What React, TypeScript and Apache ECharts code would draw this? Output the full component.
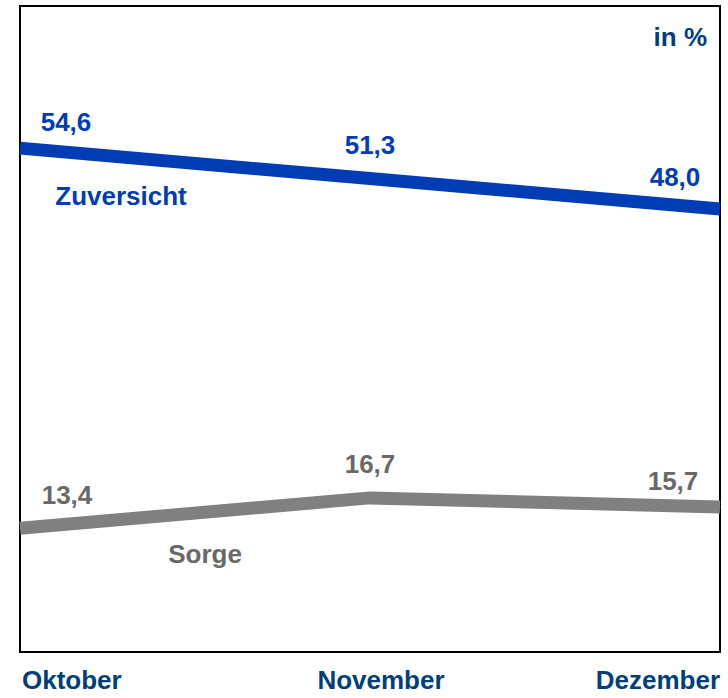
import React, { useEffect, useRef } from "react";
import * as echarts from "echarts";

const months = ["Oktober", "November", "Dezember"];
const zuversicht = [54.6, 51.3, 48.0];
const sorge = [13.4, 16.7, 15.7];
const seriesNames = ["Zuversicht", "Sorge"];
const unitLabel = "in %";

const FONT = "'Liberation Sans', Arial, sans-serif";
const BLUE = "#003DB5";
const GRAY = "#808080";
const GRAY_TEXT = "#696969";
const NAVY = "#003F7A";

const fmt = (v: number) => v.toFixed(1).replace(".", ",");

const blueOffsets = [[46, -13], [0, -20], [-45, -19]];
const grayOffsets = [[47, -20], [0, -20], [-47, -13]];

export default function App() {
  const ref = useRef<HTMLDivElement>(null);
  useEffect(() => {
    if (!ref.current) return;
    const chart = echarts.init(ref.current, null, { renderer: "svg" });
    const mk = (vals: number[], offs: number[][]) =>
      vals.map((v, i) => ({
        value: v,
        label: { offset: offs[i] },
      }));
    const labelFont = {
      fontFamily: FONT,
      fontWeight: "bold",
      fontSize: 26,
      color: NAVY,
    };
    chart.setOption({
      animation: false,
      grid: {
        left: 20,
        right: 8,
        top: 6,
        bottom: 46,
        show: true,
        borderColor: "#000",
        borderWidth: 2,
        backgroundColor: "#fff",
      },
      xAxis: {
        type: "category",
        data: months,
        boundaryGap: false,
        axisLine: { show: false },
        axisTick: { show: false },
        splitLine: { show: false },
        axisLabel: {
          ...labelFont,
          margin: 15,
          alignMinLabel: "left",
          alignMaxLabel: "right",
          showMinLabel: true,
          showMaxLabel: true,
          interval: 0,
          formatter: (v: string, i: number) =>
            i === 0 ? `{a|${v}}` : i === 1 ? `{m|${v}}` : `{z|${v}}`,
          rich: {
            a: { ...labelFont, padding: [0, 0, 0, 2] },
            m: { ...labelFont, padding: [0, 0, 0, 22] },
            z: { ...labelFont },
          },
        },
      },
      yAxis: {
        type: "value",
        min: 0,
        max: 70,
        show: false,
        splitLine: { show: false },
      },
      series: [
        {
          name: seriesNames[0],
          type: "line",
          data: mk(zuversicht, blueOffsets),
          symbol: "circle",
          symbolSize: 1,
          itemStyle: { color: BLUE },
          lineStyle: { color: BLUE, width: 13 },
          label: {
            show: true,
            position: "top",
            distance: 0,
            color: BLUE,
            fontFamily: FONT,
            fontWeight: "bold",
            fontSize: 26,
            formatter: (p: any) => fmt(p.value),
          },
        },
        {
          name: seriesNames[1],
          type: "line",
          data: mk(sorge, grayOffsets),
          symbol: "circle",
          symbolSize: 1,
          itemStyle: { color: GRAY },
          lineStyle: { color: GRAY, width: 13 },
          label: {
            show: true,
            position: "top",
            distance: 0,
            color: GRAY_TEXT,
            fontFamily: FONT,
            fontWeight: "bold",
            fontSize: 26,
            formatter: (p: any) => fmt(p.value),
          },
        },
      ],
      graphic: [
        {
          type: "text",
          x: 121,
          y: 196,
          style: {
            text: seriesNames[0],
            fill: BLUE,
            font: `bold 26px ${FONT}`,
            textAlign: "center",
            textVerticalAlign: "middle",
          },
        },
        {
          type: "text",
          x: 205,
          y: 554,
          style: {
            text: seriesNames[1],
            fill: GRAY_TEXT,
            font: `bold 26px ${FONT}`,
            textAlign: "center",
            textVerticalAlign: "middle",
          },
        },
        {
          type: "text",
          x: 707,
          y: 37,
          style: {
            text: unitLabel,
            fill: NAVY,
            font: `bold 26px ${FONT}`,
            textAlign: "right",
            textVerticalAlign: "middle",
          },
        },
      ],
    });
    return () => chart.dispose();
  }, []);
  return (
    <div
      ref={ref}
      style={{ position: "absolute", left: 0, top: 0, width: 728, height: 698, background: "#fff" }}
    />
  );
}
